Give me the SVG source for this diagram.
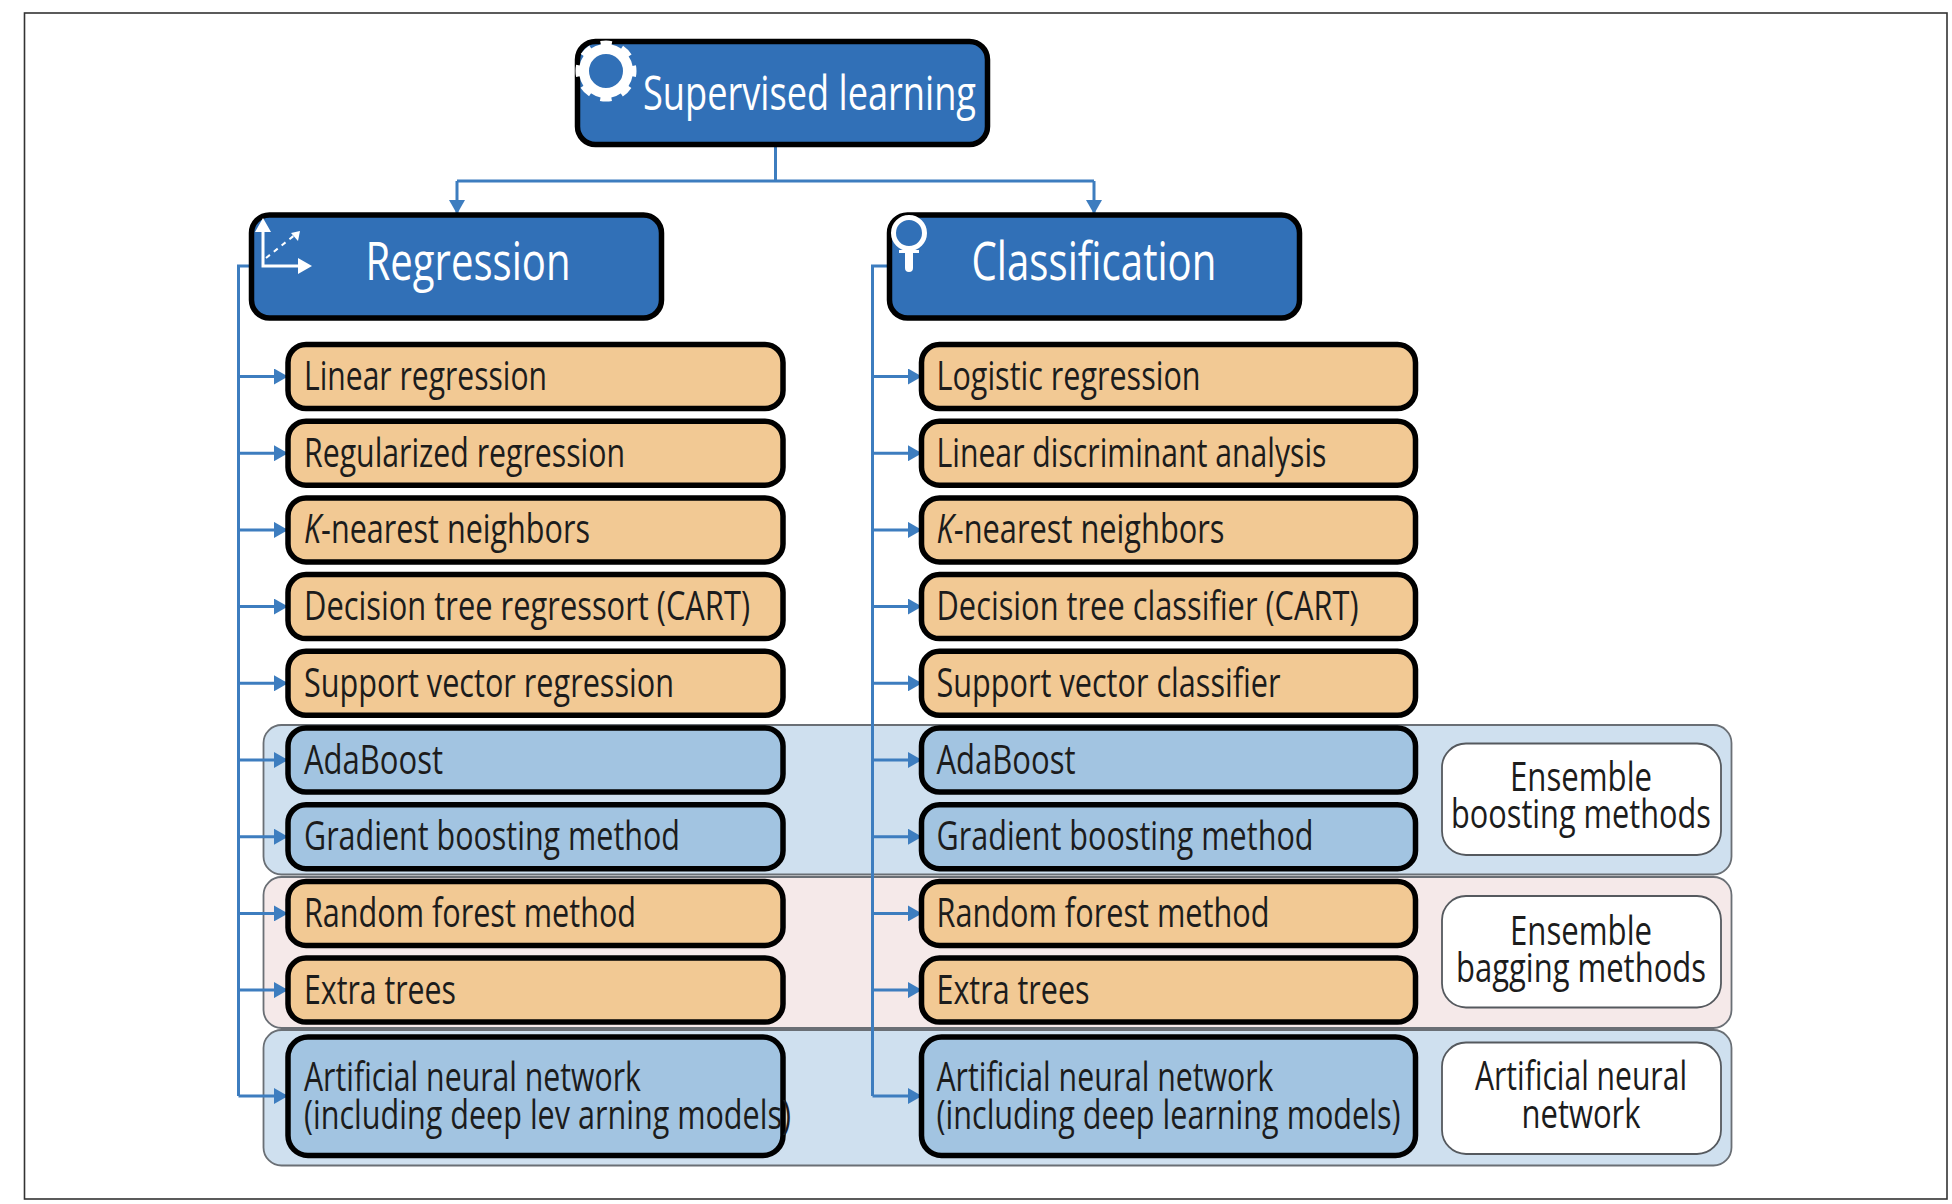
<svg xmlns="http://www.w3.org/2000/svg" width="1952" height="1204" viewBox="0 0 1952 1204">
<style>
text{font-family:"Open Sans","Noto Sans",sans-serif;fill:#1c1c1c;font-size:41px}
.w{fill:#fff}
.h1{font-size:48px}
.h2{font-size:53px}
.c{text-anchor:middle}
.blue{fill:#3170b7;stroke:#000;stroke-width:5.5}
.or{fill:#f2c994;stroke:#000;stroke-width:5.5}
.lb{fill:#a2c4e1;stroke:#000;stroke-width:5.5}
.band1{fill:#cfe0ef;stroke:#6a6f75;stroke-width:1.8}
.band2{fill:#f5e9e9;stroke:#6a6f75;stroke-width:1.8}
.wb{fill:#fff;stroke:#55595e;stroke-width:1.8}
.cn{fill:none;stroke:#3d7dbf;stroke-width:3}
.ic{fill:none;stroke:#fff}
</style>
<defs>
<marker id="a" markerUnits="userSpaceOnUse" markerWidth="15" markerHeight="16" refX="14" refY="8" orient="auto"><path d="M0 0L14 8L0 16Z" fill="#3d7dbf"/></marker>
</defs>
<rect id="frame" x="24.5" y="13" width="1922.500" height="1186" fill="#fff" stroke="#333" stroke-width="1.6"/>
<g id="band-boosting"><rect class="band1" x="263.500" y="725" width="1468" height="149.500" rx="18"/></g>
<g id="band-bagging"><rect class="band2" x="263.500" y="877" width="1468" height="151" rx="18"/></g>
<g id="band-ann"><rect class="band1" x="263.500" y="1030" width="1468" height="135.500" rx="18"/></g>
<g id="connectors">
<path class="cn" d="M775.500 147V181M457 181H1094"/>
<path class="cn" marker-end="url(#a)" d="M457 181V214"/>
<path class="cn" marker-end="url(#a)" d="M1094 181V214"/>
<path class="cn" d="M250 266H238.500V1096"/>
<path class="cn" marker-end="url(#a)" d="M238.500 376.500H288"/>
<path class="cn" marker-end="url(#a)" d="M238.500 453.200H288"/>
<path class="cn" marker-end="url(#a)" d="M238.500 529.900H288"/>
<path class="cn" marker-end="url(#a)" d="M238.500 606.600H288"/>
<path class="cn" marker-end="url(#a)" d="M238.500 683.300H288"/>
<path class="cn" marker-end="url(#a)" d="M238.500 760H288"/>
<path class="cn" marker-end="url(#a)" d="M238.500 836.700H288"/>
<path class="cn" marker-end="url(#a)" d="M238.500 913.400H288"/>
<path class="cn" marker-end="url(#a)" d="M238.500 990.100H288"/>
<path class="cn" marker-end="url(#a)" d="M238.500 1096H288"/>
<path class="cn" d="M888 266H872.500V1096"/>
<path class="cn" marker-end="url(#a)" d="M872.500 376.500H922"/>
<path class="cn" marker-end="url(#a)" d="M872.500 453.200H922"/>
<path class="cn" marker-end="url(#a)" d="M872.500 529.900H922"/>
<path class="cn" marker-end="url(#a)" d="M872.500 606.600H922"/>
<path class="cn" marker-end="url(#a)" d="M872.500 683.300H922"/>
<path class="cn" marker-end="url(#a)" d="M872.500 760H922"/>
<path class="cn" marker-end="url(#a)" d="M872.500 836.700H922"/>
<path class="cn" marker-end="url(#a)" d="M872.500 913.400H922"/>
<path class="cn" marker-end="url(#a)" d="M872.500 990.100H922"/>
<path class="cn" marker-end="url(#a)" d="M872.500 1096H922"/>
</g>
<g id="supervised-learning"><rect class="blue" x="577.500" y="41.500" width="410" height="103" rx="18"/>
<circle class="ic" cx="606" cy="71" r="22" stroke-width="10"/>
<circle class="ic" cx="606" cy="71" r="27.500" stroke-width="6" stroke-dasharray="11 10.600" stroke-dashoffset="5.500"/>
<text class="w h1" x="643" y="110" textLength="333" lengthAdjust="spacingAndGlyphs">Supervised learning</text></g>
<g id="regression"><rect class="blue" x="251.500" y="215" width="410" height="103" rx="18"/>
<path class="ic" stroke-width="3" d="M263 226V266H304"/>
<path d="M263 218L271 232H255ZM312 266L298 258V274Z" fill="#fff"/>
<path class="ic" stroke-width="2" stroke-dasharray="5 5" d="M266 258L296 234"/>
<path d="M300 231L298 241L291 233Z" fill="#fff"/>
<text class="w h2 c" x="468" y="280" textLength="205" lengthAdjust="spacingAndGlyphs">Regression</text></g>
<g id="classification"><rect class="blue" x="889.500" y="215" width="410" height="103" rx="18"/>
<circle class="ic" cx="909" cy="233" r="15.500" stroke-width="5"/>
<path d="M899 250H919V253H913V268A4 4 0 0 1 905 268V253H899Z" fill="#fff"/>
<text class="w h2 c" x="1094" y="280" textLength="245" lengthAdjust="spacingAndGlyphs">Classification</text></g>
<g id="r1"><rect class="or" x="288" y="344.500" width="495" height="64" rx="18"/><text x="304" y="390" textLength="243" lengthAdjust="spacingAndGlyphs">Linear regression</text></g>
<g id="r2"><rect class="or" x="288" y="421.200" width="495" height="64" rx="18"/><text x="304" y="466.700" textLength="321" lengthAdjust="spacingAndGlyphs">Regularized regression</text></g>
<g id="r3"><rect class="or" x="288" y="497.900" width="495" height="64" rx="18"/><text x="304" y="543.400" textLength="286" lengthAdjust="spacingAndGlyphs"><tspan font-style="italic">K</tspan>-nearest neighbors</text></g>
<g id="r4"><rect class="or" x="288" y="574.600" width="495" height="64" rx="18"/><text x="304" y="620.100" textLength="446" lengthAdjust="spacingAndGlyphs">Decision tree regressort (CART)</text></g>
<g id="r5"><rect class="or" x="288" y="651.300" width="495" height="64" rx="18"/><text x="304" y="696.800" textLength="370" lengthAdjust="spacingAndGlyphs">Support vector regression</text></g>
<g id="r6"><rect class="lb" x="288" y="728" width="495" height="64" rx="18"/><text x="304" y="773.500" textLength="139" lengthAdjust="spacingAndGlyphs">AdaBoost</text></g>
<g id="r7"><rect class="lb" x="288" y="804.700" width="495" height="64" rx="18"/><text x="304" y="850.200" textLength="376" lengthAdjust="spacingAndGlyphs">Gradient boosting method</text></g>
<g id="r8"><rect class="or" x="288" y="881.400" width="495" height="64" rx="18"/><text x="304" y="926.900" textLength="332" lengthAdjust="spacingAndGlyphs">Random forest method</text></g>
<g id="r9"><rect class="or" x="288" y="958.100" width="495" height="64" rx="18"/><text x="304" y="1003.600" textLength="152" lengthAdjust="spacingAndGlyphs">Extra trees</text></g>
<g id="r10"><rect class="lb" x="288" y="1037" width="495" height="118.500" rx="20"/><text x="304" y="1091" textLength="337" lengthAdjust="spacingAndGlyphs">Artificial neural network</text><text x="304" y="1128.500" textLength="487" lengthAdjust="spacingAndGlyphs">(including deep lev arning models)</text></g>
<g id="c1"><rect class="or" x="921.500" y="344.500" width="494" height="64" rx="18"/><text x="936.500" y="390" textLength="264" lengthAdjust="spacingAndGlyphs">Logistic regression</text></g>
<g id="c2"><rect class="or" x="921.500" y="421.200" width="494" height="64" rx="18"/><text x="936.500" y="466.700" textLength="390" lengthAdjust="spacingAndGlyphs">Linear discriminant analysis</text></g>
<g id="c3"><rect class="or" x="921.500" y="497.900" width="494" height="64" rx="18"/><text x="936.500" y="543.400" textLength="288" lengthAdjust="spacingAndGlyphs"><tspan font-style="italic">K</tspan>-nearest neighbors</text></g>
<g id="c4"><rect class="or" x="921.500" y="574.600" width="494" height="64" rx="18"/><text x="936.500" y="620.100" textLength="422" lengthAdjust="spacingAndGlyphs">Decision tree classifier (CART)</text></g>
<g id="c5"><rect class="or" x="921.500" y="651.300" width="494" height="64" rx="18"/><text x="936.500" y="696.800" textLength="344" lengthAdjust="spacingAndGlyphs">Support vector classifier</text></g>
<g id="c6"><rect class="lb" x="921.500" y="728" width="494" height="64" rx="18"/><text x="936.500" y="773.500" textLength="139" lengthAdjust="spacingAndGlyphs">AdaBoost</text></g>
<g id="c7"><rect class="lb" x="921.500" y="804.700" width="494" height="64" rx="18"/><text x="936.500" y="850.200" textLength="377" lengthAdjust="spacingAndGlyphs">Gradient boosting method</text></g>
<g id="c8"><rect class="or" x="921.500" y="881.400" width="494" height="64" rx="18"/><text x="936.500" y="926.900" textLength="333" lengthAdjust="spacingAndGlyphs">Random forest method</text></g>
<g id="c9"><rect class="or" x="921.500" y="958.100" width="494" height="64" rx="18"/><text x="936.500" y="1003.600" textLength="153" lengthAdjust="spacingAndGlyphs">Extra trees</text></g>
<g id="c10"><rect class="lb" x="921.500" y="1037" width="494" height="118.500" rx="20"/><text x="936.500" y="1091" textLength="337" lengthAdjust="spacingAndGlyphs">Artificial neural network</text><text x="936.500" y="1128.500" textLength="464" lengthAdjust="spacingAndGlyphs">(including deep learning models)</text></g>
<g id="ensemble-boosting"><rect class="wb" x="1442" y="743.500" width="279" height="111.500" rx="24"/><text class="c" x="1581" y="791" textLength="142" lengthAdjust="spacingAndGlyphs">Ensemble</text><text class="c" x="1581" y="828" textLength="260" lengthAdjust="spacingAndGlyphs">boosting methods</text></g>
<g id="ensemble-bagging"><rect class="wb" x="1442" y="896" width="279" height="111.500" rx="24"/><text class="c" x="1581" y="945" textLength="142" lengthAdjust="spacingAndGlyphs">Ensemble</text><text class="c" x="1581" y="982" textLength="250" lengthAdjust="spacingAndGlyphs">bagging methods</text></g>
<g id="artificial-neural-network"><rect class="wb" x="1442" y="1042.500" width="279" height="111.500" rx="24"/><text class="c" x="1581" y="1089.500" textLength="212" lengthAdjust="spacingAndGlyphs">Artificial neural</text><text class="c" x="1581" y="1128" textLength="119" lengthAdjust="spacingAndGlyphs">network</text></g>
</svg>
